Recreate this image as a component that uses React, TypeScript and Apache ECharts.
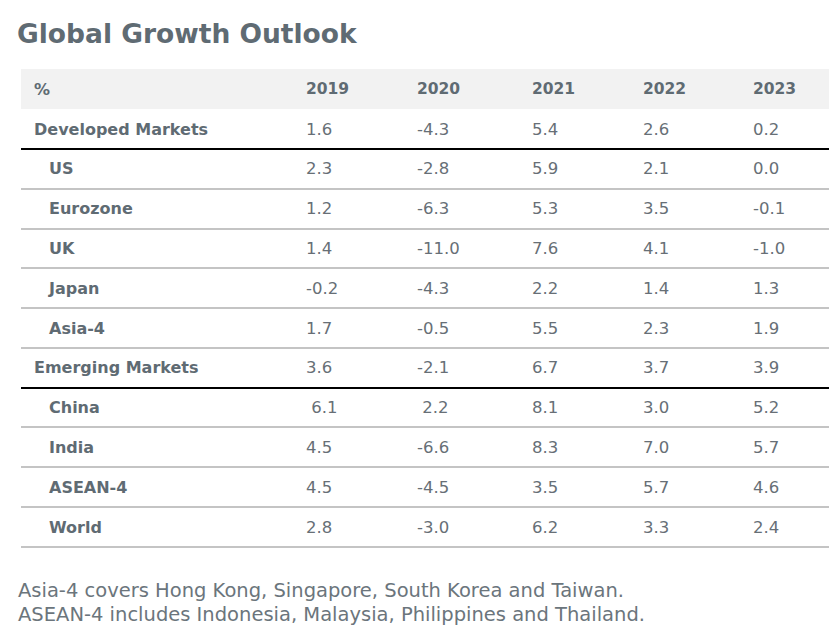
import React, { useEffect, useRef } from "react";
import * as echarts from "echarts";

const title = "Global Growth Outlook";
const headerLabel = "%";
const years = ["2019", "2020", "2021", "2022", "2023"];
const rowLabels = [
  "Developed Markets",
  "US",
  "Eurozone",
  "UK",
  "Japan",
  "Asia-4",
  "Emerging Markets",
  "China",
  "India",
  "ASEAN-4",
  "World",
];
// 0 = group row, 1 = sub-row
const rowLevels = [0, 1, 1, 1, 1, 1, 0, 1, 1, 1, 1];
const rowValues = [
  ["1.6", "-4.3", "5.4", "2.6", "0.2"],
  ["2.3", "-2.8", "5.9", "2.1", "0.0"],
  ["1.2", "-6.3", "5.3", "3.5", "-0.1"],
  ["1.4", "-11.0", "7.6", "4.1", "-1.0"],
  ["-0.2", "-4.3", "2.2", "1.4", "1.3"],
  ["1.7", "-0.5", "5.5", "2.3", "1.9"],
  ["3.6", "-2.1", "6.7", "3.7", "3.9"],
  [" 6.1", " 2.2", "8.1", "3.0", "5.2"],
  ["4.5", "-6.6", "8.3", "7.0", "5.7"],
  ["4.5", "-4.5", "3.5", "5.7", "4.6"],
  ["2.8", "-3.0", "6.2", "3.3", "2.4"],
];
const footnotes = [
  "Asia-4 covers Hong Kong, Singapore, South Korea and Taiwan.",
  "ASEAN-4 includes Indonesia, Malaysia, Philippines and Thailand.",
];

const FONT = "'DejaVu Sans', sans-serif";
const TEXT = "#5f6b73";

export default function App() {
  const ref = useRef<HTMLDivElement>(null);
  useEffect(() => {
    document.body.style.margin = "0";
    const chart = echarts.init(ref.current!, null, { renderer: "svg" });
    const left = 21;
    const right = 829;
    const colX = [306, 417, 532, 643, 753];
    const headerTop = 69;
    const headerH = 40;
    const firstRowY = 129;
    const rowH = 39.8;
    const elements: any[] = [];
    elements.push({
      type: "text",
      x: 17,
      y: 33,
      style: { text: title, font: `bold 26.5px ${FONT}`, fill: TEXT, verticalAlign: "middle" },
    });
    elements.push({
      type: "rect",
      shape: { x: left, y: headerTop, width: right - left, height: headerH },
      style: { fill: "#f2f2f2" },
    });
    const headY = headerTop + headerH / 2;
    elements.push({
      type: "text",
      x: 34,
      y: headY,
      style: { text: headerLabel, font: `bold 16px ${FONT}`, fill: TEXT, verticalAlign: "middle" },
    });
    years.forEach((yr, j) => {
      elements.push({
        type: "text",
        x: colX[j],
        y: headY,
        style: { text: yr, font: `bold 15.5px ${FONT}`, fill: TEXT, verticalAlign: "middle" },
      });
    });
    rowLabels.forEach((lab, i) => {
      const cy = firstRowY + rowH * i;
      elements.push({
        type: "text",
        x: rowLevels[i] === 0 ? 34 : 49,
        y: cy,
        style: { text: lab, font: `bold 16px ${FONT}`, fill: TEXT, verticalAlign: "middle" },
      });
      rowValues[i].forEach((v, j) => {
        elements.push({
          type: "text",
          x: colX[j],
          y: cy,
          style: { text: v, font: `16.5px ${FONT}`, fill: "#676f76", verticalAlign: "middle" },
        });
      });
      const ly = Math.round(cy + rowH / 2);
      const isGroup = rowLevels[i] === 0;
      elements.push({
        type: "line",
        shape: { x1: left, y1: ly, x2: right, y2: ly },
        style: { stroke: isGroup ? "#000000" : "#c4c4c4", lineWidth: 2 },
      });
    });
    footnotes.forEach((f, k) => {
      elements.push({
        type: "text",
        x: 18,
        y: 590 + 24 * k,
        style: { text: f, font: `19.5px ${FONT}`, fill: "#6b757c", verticalAlign: "middle" },
      });
    });
    chart.setOption({
      animation: false,
      backgroundColor: "#ffffff",
      graphic: { elements },
    });
    return () => chart.dispose();
  }, []);
  return <div ref={ref} style={{ position: "fixed", left: 0, top: 0, width: 839, height: 633 }} />;
}
